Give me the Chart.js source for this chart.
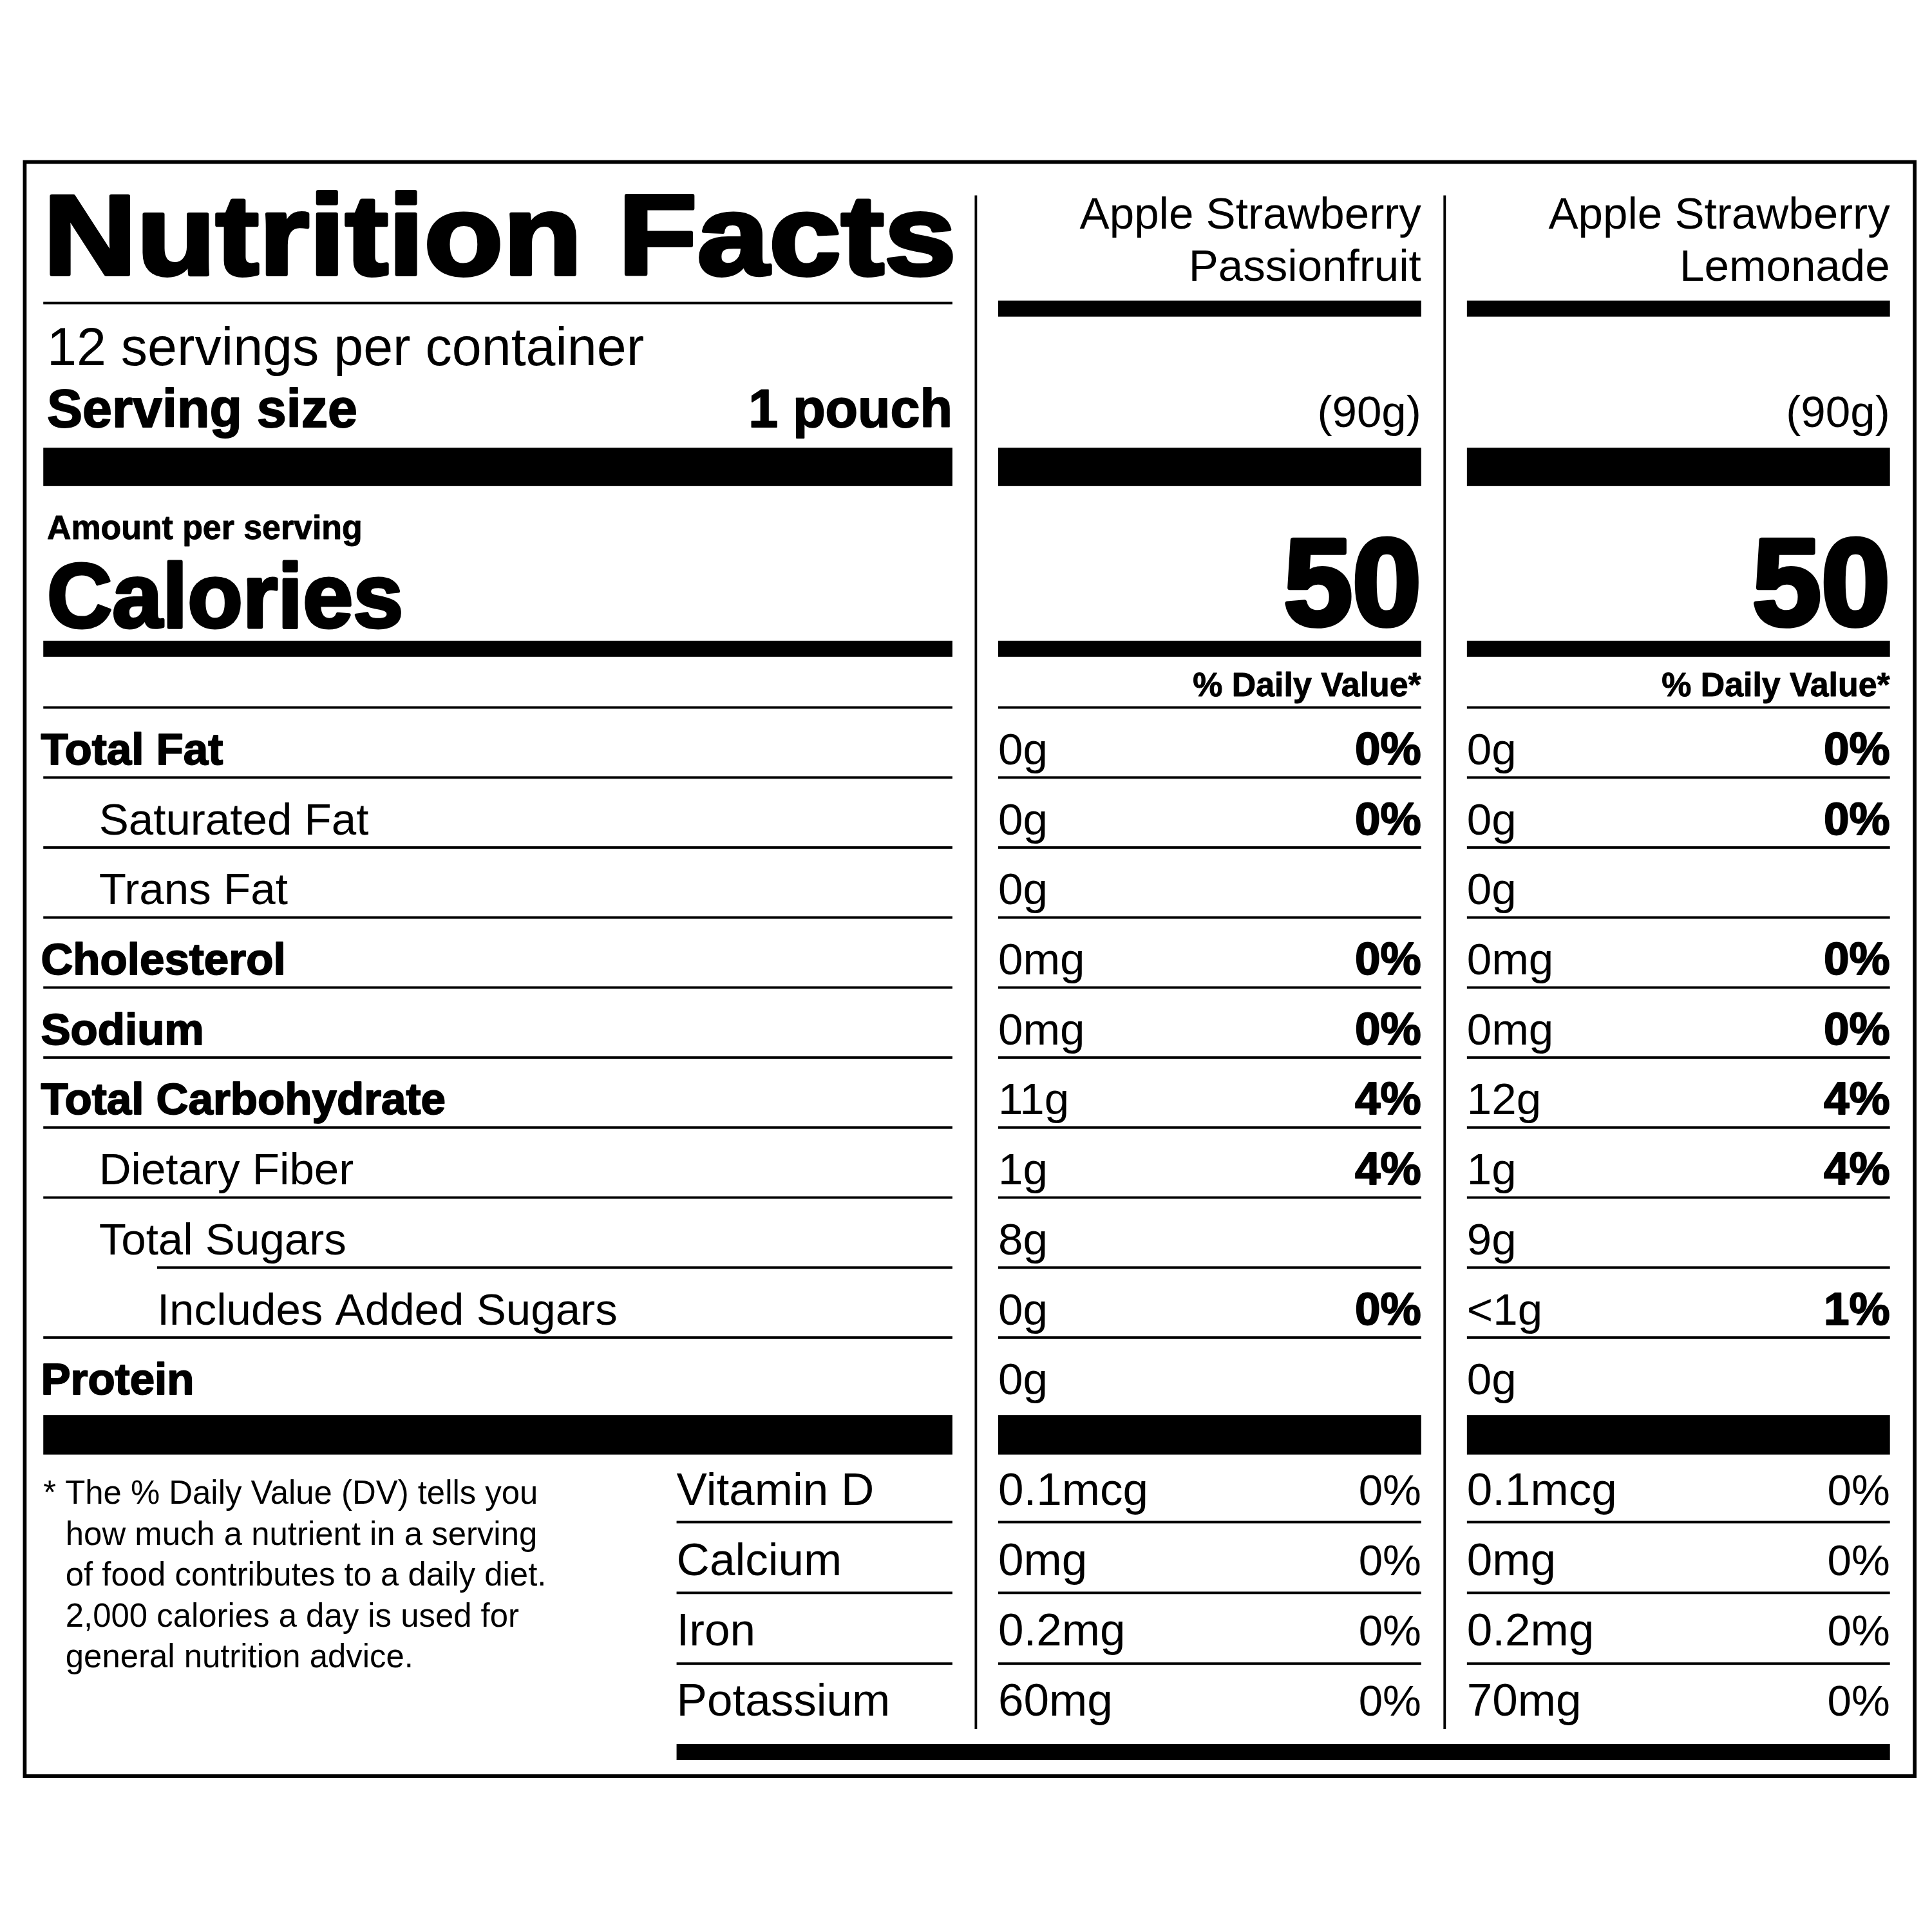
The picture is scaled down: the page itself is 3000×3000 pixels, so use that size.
<!DOCTYPE html>
<html><head><meta charset="utf-8">
<script src="https://cdn.jsdelivr.net/npm/chart.js@4.4.0/dist/chart.umd.min.js"></script>
<style>html,body{margin:0;padding:0;background:#fff}</style>
</head><body>
<canvas id="c" width="3000" height="3000"></canvas>
<script>
const productNames = [["Apple Strawberry","Passionfruit"],["Apple Strawberry","Lemonade"]];
const servingsText = "12 servings per container";
const servingSize = "1 pouch";
const servingGrams = ["(90g)","(90g)"];
const calories = ["50","50"];
const nutrientLabels = ["Total Fat","Saturated Fat","Trans Fat","Cholesterol","Sodium","Total Carbohydrate","Dietary Fiber","Total Sugars","Includes Added Sugars","Protein"];
const nutrientIndent = [0,1,1,0,0,0,1,1,2,0];
const amountsA = ["0g","0g","0g","0mg","0mg","11g","1g","8g","0g","0g"];
const pctA = ["0%","0%","","0%","0%","4%","4%","","0%",""];
const amountsB = ["0g","0g","0g","0mg","0mg","12g","1g","9g","<1g","0g"];
const pctB = ["0%","0%","","0%","0%","4%","4%","","1%",""];
const vitaminLabels = ["Vitamin D","Calcium","Iron","Potassium"];
const vitAmountsA = ["0.1mcg","0mg","0.2mg","60mg"];
const vitPctA = ["0%","0%","0%","0%"];
const vitAmountsB = ["0.1mcg","0mg","0.2mg","70mg"];
const vitPctB = ["0%","0%","0%","0%"];
const footnote = ["* The % Daily Value (DV) tells you","how much a nutrient in a serving","of food contributes to a daily diet.","2,000 calories a day is used for","general nutrition advice."];

const S = 3000/1562;
const F = "'Liberation Sans', Arial, sans-serif";
const labelPlugin = {
  id:'label',
  afterDraw(chart){
    const ctx = chart.ctx, sx = chart.scales.x, sy = chart.scales.y;
    const X = v => sx.getPixelForValue(v), Y = v => sy.getPixelForValue(v);
    ctx.save();
    ctx.fillStyle = '#000'; ctx.strokeStyle = '#000';
    const rect = (x1,y1,x2,y2) => ctx.fillRect(X(x1),Y(y1),X(x2)-X(x1),Y(y2)-Y(y1));
    const hline = (x1,x2,y,t) => rect(x1,y-t/2,x2,y+t/2);
    const text = (s,x,y,size,opt={}) => {
      ctx.font = (opt.w||'normal')+' '+(size*S)+'px '+F;
      ctx.textAlign = opt.a||'left'; ctx.textBaseline='alphabetic';
      ctx.save();
      let px = X(x), py = Y(y);
      if (opt.width){
        const m = ctx.measureText(s).width;
        ctx.translate(px,py); ctx.scale((opt.width*S)/m,1); px=0; py=0;
      }
      ctx.fillText(s,px,py);
      if (opt.heavy){ ctx.lineWidth = opt.heavy*S; ctx.lineJoin='round'; ctx.strokeText(s,px,py); }
      ctx.restore();
    };
    // border
    ctx.lineWidth = 3*S; ctx.strokeRect(X(20),Y(131),X(1548)-X(20),Y(1436)-Y(131));
    // dividers
    rect(788,158,790,1398); rect(1167,158,1169,1398);
    const cols = [[807,1149],[1186,1528]];
    // title
    text("Nutrition Facts",35,222,92,{w:'bold',width:738,heavy:3});
    hline(35,770,245,2);
    text(servingsText,38,295,43);
    text("Serving size",38,345,43,{w:'bold',heavy:1});
    text(servingSize,770,345,43,{w:'bold',a:'right',heavy:1});
    rect(35,362,770,393);
    text("Amount per serving",38,436,27,{w:'bold',heavy:0.5});
    text("Calories",38,507,73,{w:'bold',heavy:2.5});
    rect(35,518,770,531);
    hline(35,770,572,2);
    const rowY = i => 572+56.6*i;
    const amounts=[amountsA,amountsB], pcts=[pctA,pctB];
    nutrientLabels.forEach((l,i)=>{
      const ind = nutrientIndent[i];
      const bold = ind===0;
      text(l,[33,80,127][ind],rowY(i)+46,36,bold?{w:'bold',heavy:1}:{});
      if (i<nutrientLabels.length-1){
        const lx = nutrientIndent[i+1]===2?127:35;
        hline(lx,770,rowY(i+1),2);
      }
    });
    rect(35,1144,770,1176);
    const vY = i => 1174+56.6*i;
    vitaminLabels.forEach((l,i)=>{
      text(l,547,vY(i)+43,37);
      if(i<3) hline(547,770,vY(i+1)+i*0.6,2);
    });
    footnote.forEach((l,i)=>text(l,i===0?35:53,1216+33*i,26.5));
    if (true){ // "*" separate spacing handled by text
    }
    const vA=[vitAmountsA,vitAmountsB], vP=[vitPctA,vitPctB];
    cols.forEach(([a,b],c)=>{
      text(productNames[c][0],b,185,36,{a:'right'});
      text(productNames[c][1],b,227,36,{a:'right'});
      rect(a,243,b,256);
      text(servingGrams[c],b,345,36,{a:'right'});
      rect(a,362,b,393);
      text(calories[c],b,505,100,{w:'bold',a:'right',heavy:4});
      rect(a,518,b,531);
      text("% Daily Value*",b,563,27,{w:'bold',a:'right',heavy:0.5});
      hline(a,b,572,2);
      nutrientLabels.forEach((l,i)=>{
        text(amounts[c][i],a,rowY(i)+46,36);
        if(pcts[c][i]) text(pcts[c][i],b,rowY(i)+46,37,{w:'bold',a:'right',heavy:1});
        if(i<nutrientLabels.length-1) hline(a,b,rowY(i+1),2);
      });
      rect(a,1144,b,1176);
      vitaminLabels.forEach((l,i)=>{
        text(vA[c][i],a,vY(i)+43,37);
        text(vP[c][i],b,vY(i)+43,35,{a:'right'});
        if(i<3) hline(a,b,vY(i+1)+i*0.6,2);
      });
    });
    rect(547,1410,1528,1423);
    ctx.restore();
  }
};
new Chart(document.getElementById('c'),{
  type:'scatter',
  data:{datasets:[{data:[]}]},
  options:{responsive:false,animation:false,devicePixelRatio:1,
    layout:{padding:0},
    plugins:{legend:{display:false},tooltip:{enabled:false}},
    scales:{x:{type:'linear',min:0,max:1562,display:false},
            y:{type:'linear',min:0,max:1562,reverse:true,display:false}}},
  plugins:[labelPlugin]
});
</script>
</body></html>
